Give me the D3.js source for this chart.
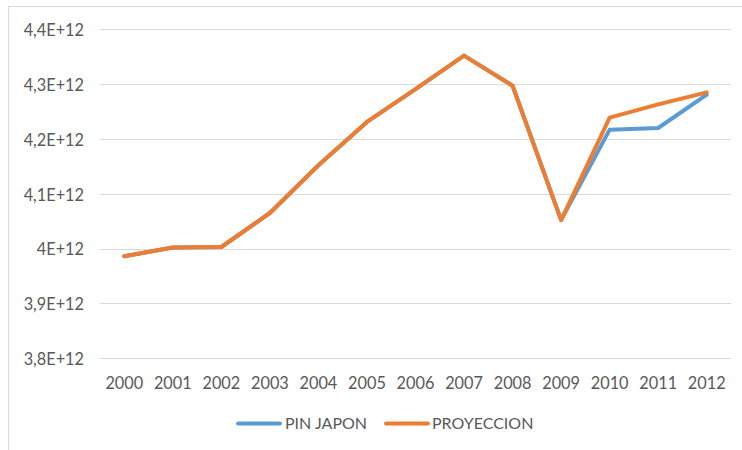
<!DOCTYPE html>
<html>
<head>
<meta charset="utf-8">
<script src="https://cdn.jsdelivr.net/npm/d3@7"></script>
<style>
body{margin:0;background:#fff;}
svg{display:block;}
</style>
</head>
<body>
<svg id="chart" width="742" height="450"></svg>
<script>
const years = ["2000","2001","2002","2003","2004","2005","2006","2007","2008","2009","2010","2011","2012"];
const pinJapon = [3.986e12,4.002e12,4.003e12,4.065e12,4.152e12,4.231e12,4.291e12,4.352e12,4.297e12,4.052e12,4.217e12,4.220e12,4.281e12];
const proyeccion = [3.986e12,4.002e12,4.003e12,4.065e12,4.152e12,4.231e12,4.291e12,4.352e12,4.297e12,4.052e12,4.239e12,4.263e12,4.285e12];
const yTicks = [3.8e12,3.9e12,4.0e12,4.1e12,4.2e12,4.3e12,4.4e12];
const yTickLabels = ["3,8E+12","3,9E+12","4E+12","4,1E+12","4,2E+12","4,3E+12","4,4E+12"];
const seriesNames = ["PIN JAPON","PROYECCION"];
const seriesColors = ["#5b9bd5","#ed7d31"];

(function(){
const svg = d3.select("#chart");
const font = "Lato, 'Open Sans', sans-serif";
const textColor = "#595959";
const fs = "16.3px";

svg.append("rect").attr("x",8.5).attr("y",6.5).attr("width",760).attr("height",460)
  .attr("fill","none").attr("stroke","#d9d9d9").attr("stroke-width",1);

const pLeft = 100, pRight = 731, pTop = 29.3, pBottom = 358.3;
const x = d3.scaleBand().domain(years).range([pLeft,pRight]);
const y = d3.scaleLinear().domain([3.8e12,4.4e12]).range([pBottom,pTop]);

svg.append("g").selectAll("line").data(yTicks).join("line")
  .attr("x1",pLeft).attr("x2",pRight)
  .attr("y1",d=>Math.round(y(d))+0.5).attr("y2",d=>Math.round(y(d))+0.5)
  .attr("stroke","#d9d9d9").attr("stroke-width",1);

const yAxis = d3.axisLeft(y).tickValues(yTicks).tickFormat((d,i)=>yTickLabels[i]).tickSize(0).tickPadding(0);
const yg = svg.append("g").attr("transform",`translate(${84},0)`).call(yAxis);
yg.select(".domain").remove();
yg.selectAll("text").attr("fill",textColor).attr("dy","0.38em").style("font-family",font).style("font-size",fs);

const xAxis = d3.axisBottom(x).tickSize(0).tickPadding(0);
const xg = svg.append("g").attr("transform",`translate(0,${388.5})`).call(xAxis);
xg.select(".domain").remove();
xg.selectAll("text").attr("y",0).attr("dy","0").attr("fill",textColor).style("font-family",font).style("font-size",fs);

const line = d3.line().x((d,i)=>x(years[i])+x.bandwidth()/2).y(d=>y(d));
[pinJapon, proyeccion].forEach((s,k)=>{
  svg.append("path").datum(s).attr("d",line)
    .attr("fill","none").attr("stroke",seriesColors[k]).attr("stroke-width",4)
    .attr("stroke-linejoin","round").attr("stroke-linecap","round");
});

const legendItems = [{x1:238,x2:280,tx:285},{x1:386,x2:428,tx:432}];
const lg = svg.append("g");
legendItems.forEach((it,k)=>{
  lg.append("line").attr("x1",it.x1).attr("x2",it.x2).attr("y1",423.5).attr("y2",423.5)
    .attr("stroke",seriesColors[k]).attr("stroke-width",4).attr("stroke-linecap","round");
  lg.append("text").attr("x",it.tx).attr("y",429.3)
    .attr("fill",textColor).style("font-family",font).style("font-size","16px")
    .text(seriesNames[k]);
});
})();
</script>
</body>
</html>
